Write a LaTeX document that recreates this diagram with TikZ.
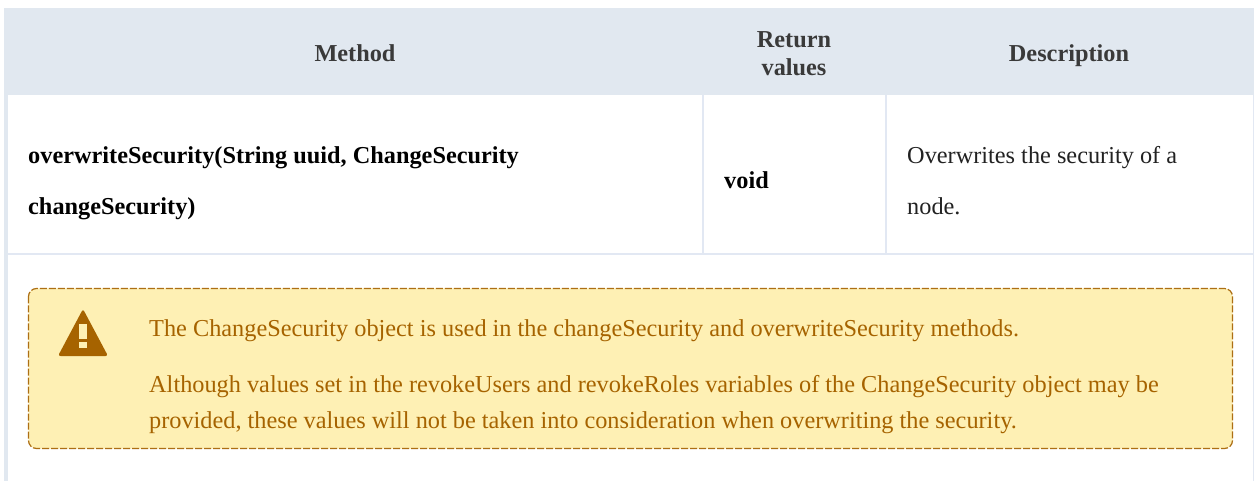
\documentclass[tikz,border=0pt]{standalone}
\usepackage{fontspec}
\setmainfont{Liberation Serif}
\definecolor{headbg}{HTML}{E1E8F0}
\definecolor{rule}{HTML}{E2E8F3}
\definecolor{headtx}{HTML}{3A3A3A}
\definecolor{bodytx}{HTML}{222222}
\definecolor{warnbg}{HTML}{FEF0B4}
\definecolor{warntx}{HTML}{A66300}
\definecolor{warnln}{HTML}{AD6F14}
\tikzset{
  x=1pt,y=-1pt,
  txt/.style={inner sep=0pt,anchor=base west,font=\fontsize{24.3}{26}\selectfont},
  head/.style={inner sep=0pt,anchor=base,font=\fontsize{24.3}{26}\selectfont\bfseries,text=headtx},
  cell/.style={txt,text=bodytx},
  cellb/.style={txt,text=black,font=\fontsize{24.3}{26}\selectfont\bfseries},
  warn/.style={txt,text=warntx},
}
\begin{document}
\begin{tikzpicture}
\useasboundingbox (0,0) rectangle (1254,481);
\fill[white] (0,0) rectangle (1254,481);
\fill[headbg] (4,8) rectangle (1254,95);
\fill[headbg] (4,95) rectangle (8,481);
\fill[rule] (1253,95) rectangle (1254,481);
\fill[rule] (8,253) rectangle (1253,255);
\fill[rule] (702,95) rectangle (704,253);
\fill[rule] (885,95) rectangle (887,253);
\node[head] (h1) at (355,62) {Method};
\node[head] (h2a) at (794,48) {Return};
\node[head] (h2b) at (794,76) {values};
\node[head] (h3) at (1069,62) {Description};
\node[cellb] (m1) at (28,164) {overwriteSecurity(String uuid, ChangeSecurity};
\node[cellb] (m2) at (28,215) {changeSecurity)};
\node[cellb] (r) at (724,189) {void};
\node[cell] (d1) at (907,164) {Overwrites the security of a};
\node[cell] (d2) at (907,215) {node.};
\draw[warnln,fill=warnbg,line width=1.2pt,dash pattern=on 7pt off 2pt,rounded corners=8pt] (28.5,288.5) rectangle (1232.5,448.5);
\fill[warntx,rounded corners=2.5pt] (83,309) -- (108,356) -- (58,356) -- cycle;
\fill[warnbg] (79.4,324) rectangle (86.6,339);
\fill[warnbg] (79.4,341.8) rectangle (86.6,348);
\node[warn] (w1) at (149,337) {The ChangeSecurity object is used in the changeSecurity and overwriteSecurity methods.};
\node[warn] (w2) at (149,392) {Although values set in the revokeUsers and revokeRoles variables of the ChangeSecurity object may be};
\node[warn] (w3) at (149,428) {provided, these values will not be taken into consideration when overwriting the security.};
\end{tikzpicture}
\end{document}
